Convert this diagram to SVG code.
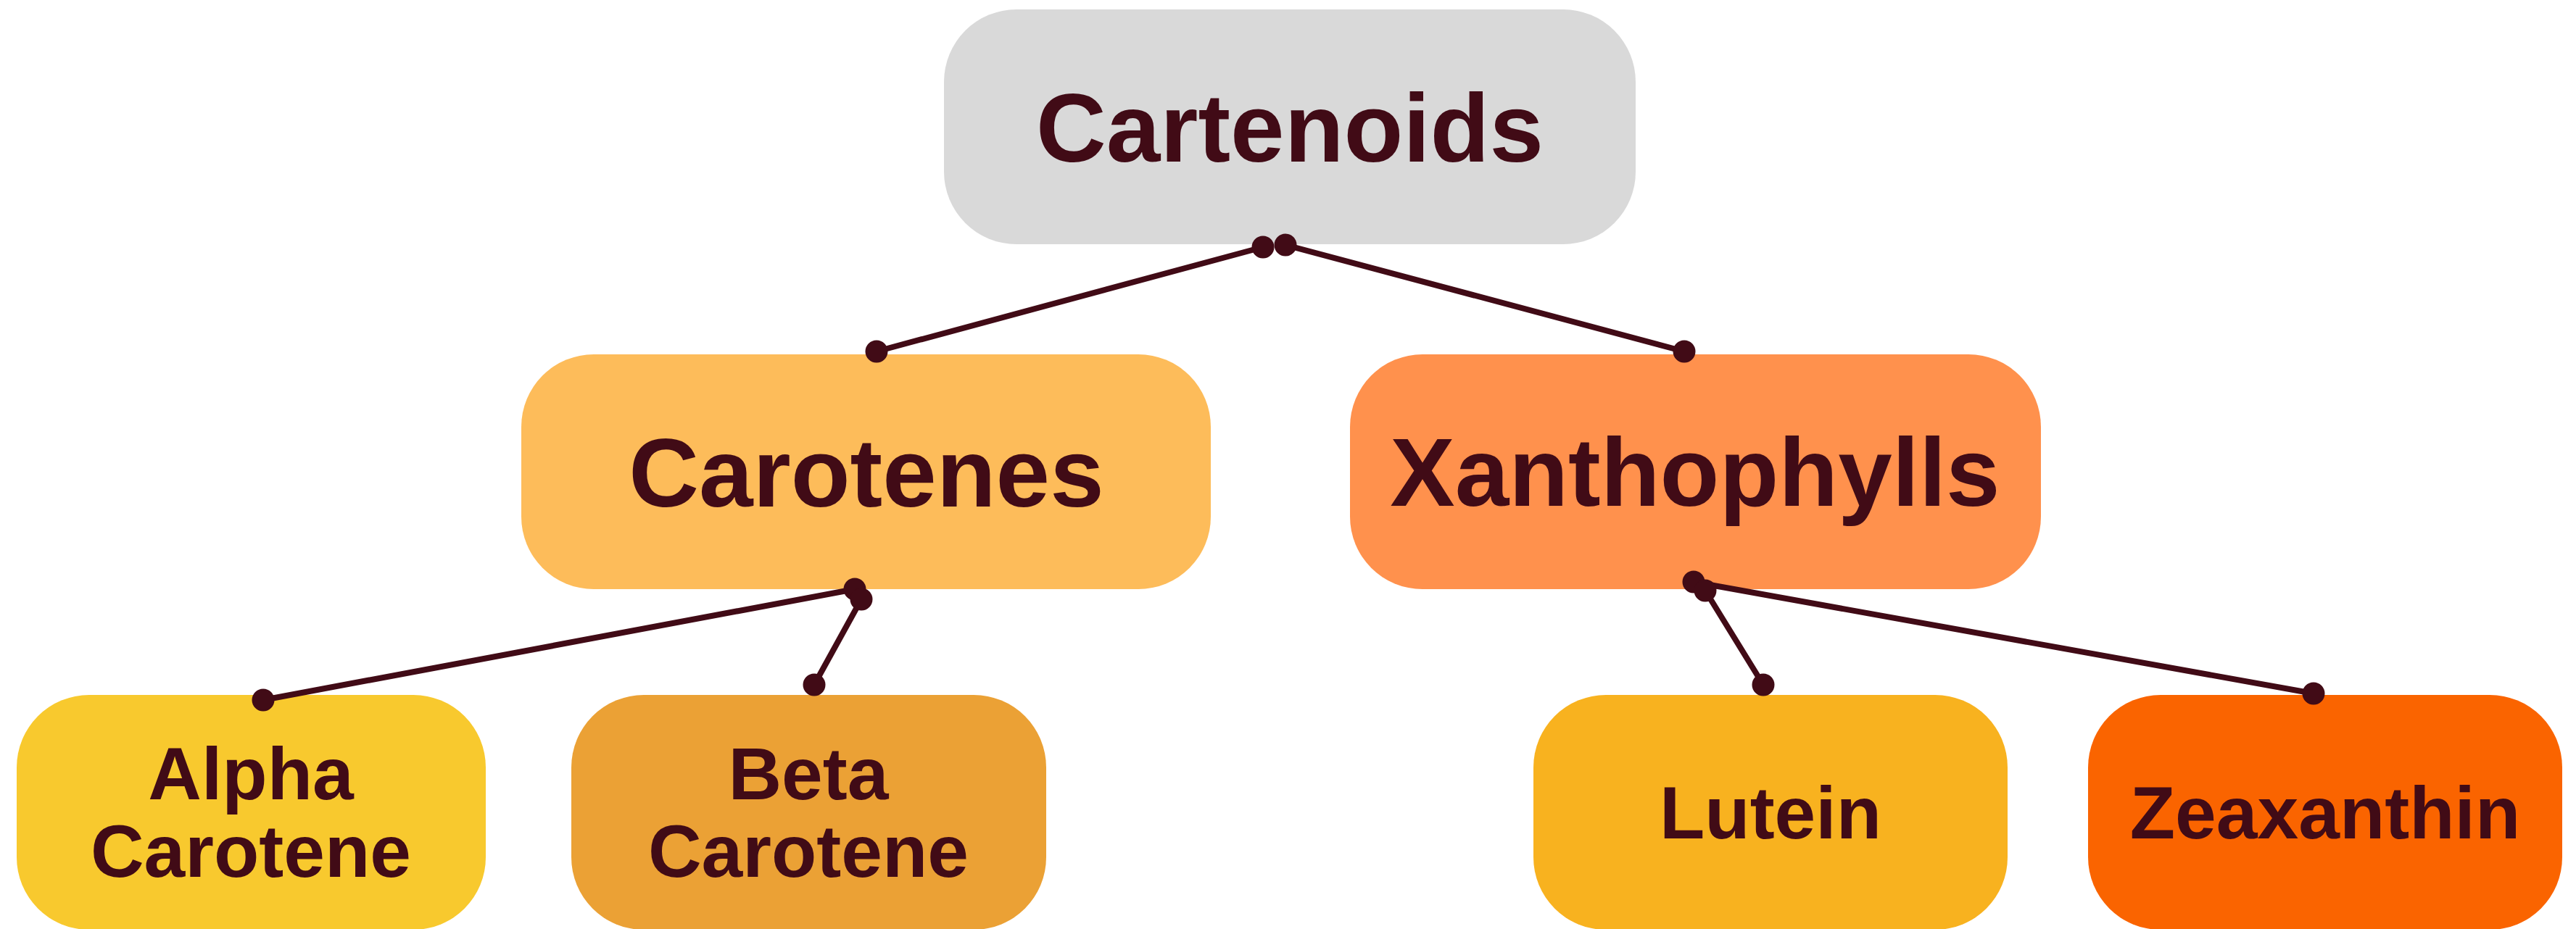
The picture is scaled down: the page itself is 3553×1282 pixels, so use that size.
<svg xmlns="http://www.w3.org/2000/svg" width="3553" height="1282" viewBox="0 0 3553 1282">
<style>
.lbl{font-family:"Liberation Sans",Arial,sans-serif;font-weight:bold;fill:#410b16;text-anchor:middle}
.big{font-size:134px}
.small{font-size:102px}
.con line{stroke:#410b16;stroke-width:8;stroke-linecap:round}
.con circle{fill:#410b16}
</style>
<rect width="3553" height="1282" fill="#ffffff"/>
<g id="node-cartenoids">
<rect x="1302" y="13" width="954" height="324" rx="100" ry="100" fill="#d9d9d9"/>
<text class="lbl big" x="1779" y="223">Cartenoids</text>
</g>
<g id="node-carotenes">
<rect x="719" y="489" width="951" height="324" rx="100" ry="100" fill="#fdbc5a"/>
<text class="lbl big" x="1195" y="699">Carotenes</text>
</g>
<g id="node-xanthophylls">
<rect x="1862" y="489" width="953" height="324" rx="100" ry="100" fill="#ff914d"/>
<text class="lbl big" x="2338" y="698">Xanthophylls</text>
</g>
<g id="node-alpha">
<rect x="23" y="959" width="647" height="324" rx="100" ry="100" fill="#f8c92e"/>
<text class="lbl small" x="346" y="1103">Alpha</text>
<text class="lbl small" x="346" y="1210">Carotene</text>
</g>
<g id="node-beta">
<rect x="788" y="959" width="655" height="324" rx="100" ry="100" fill="#eba135"/>
<text class="lbl small" x="1115" y="1103">Beta</text>
<text class="lbl small" x="1115" y="1210">Carotene</text>
</g>
<g id="node-lutein">
<rect x="2115" y="959" width="654" height="324" rx="100" ry="100" fill="#f8b21f"/>
<text class="lbl small" x="2442" y="1157">Lutein</text>
</g>
<g id="node-zeaxanthin">
<rect x="2880" y="959" width="654" height="324" rx="100" ry="100" fill="#fa6400"/>
<text class="lbl small" x="3207" y="1157">Zeaxanthin</text>
</g>
<g id="connectors" class="con">
<line x1="1742" y1="341" x2="1209" y2="485"/>
<circle cx="1742" cy="341" r="15.5"/>
<circle cx="1209" cy="485" r="15.5"/>
<line x1="1773" y1="338" x2="2323" y2="485"/>
<circle cx="1773" cy="338" r="15.5"/>
<circle cx="2323" cy="485" r="15.5"/>
<line x1="1179" y1="813" x2="363" y2="966"/>
<circle cx="1179" cy="813" r="15.5"/>
<circle cx="363" cy="966" r="15.5"/>
<line x1="1188" y1="827" x2="1123" y2="945"/>
<circle cx="1188" cy="827" r="15.5"/>
<circle cx="1123" cy="945" r="15.5"/>
<line x1="2336" y1="803" x2="3191" y2="957"/>
<circle cx="2336" cy="803" r="15.5"/>
<circle cx="3191" cy="957" r="15.5"/>
<line x1="2352" y1="815" x2="2432" y2="945"/>
<circle cx="2352" cy="815" r="15.5"/>
<circle cx="2432" cy="945" r="15.5"/>
</g>
</svg>
